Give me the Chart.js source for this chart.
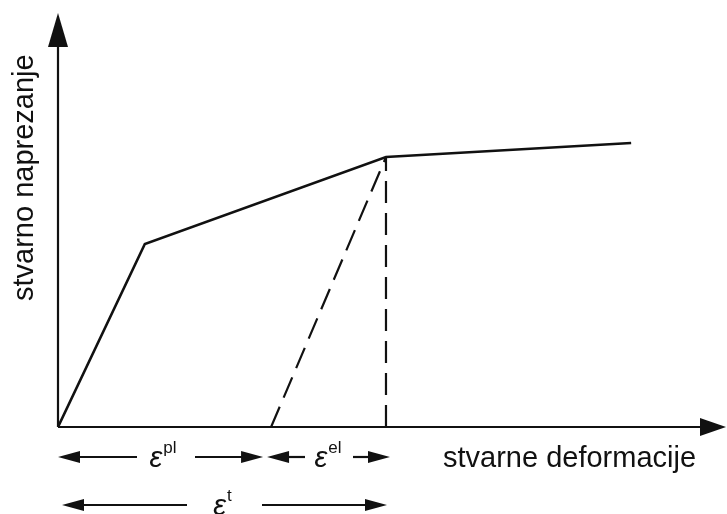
<!DOCTYPE html>
<html>
<head>
<meta charset="utf-8">
<script src="https://cdn.jsdelivr.net/npm/chart.js@4/dist/chart.umd.min.js"></script>
<style>
html,body{margin:0;padding:0;background:#fff;}
canvas{display:block;}
</style>
</head>
<body>
<canvas id="c" width="727" height="514"></canvas>
<script>
// Curve (true strain vs true stress), arbitrary units 0..100
const curveStrain = [0, 13.0, 49.1, 85.8];
const curveStress = [0, 44.2, 65.2, 68.6];
// Elastic unloading line (dashed)
const unloadStrain = [31.9, 49.1];
const unloadStress = [0, 65.2];
// Vertical dashed line at the peak
const dropStrain = [49.1, 49.1];
const dropStress = [0, 65.2];
// Dimension labels
const dimLabels = ['pl', 'el', 't'];
const dimFrom = [0, 31.9, 0];
const dimTo = [31.9, 49.1, 49.1];
const xAxisTitle = 'stvarne deformacije';
const yAxisTitle = 'stvarno naprezanje';

function pts(xs, ys){ return xs.map((v,i)=>({x:v,y:ys[i]})); }

const INK = '#111';

const decor = {
  id:'decor',
  afterDraw(chart){
    const {ctx, scales:{x, y}} = chart;
    const x0 = x.getPixelForValue(0), y0 = y.getPixelForValue(0);
    const yTop = y.getPixelForValue(100), xEnd = x.getPixelForValue(100);
    ctx.save();
    ctx.strokeStyle = INK; ctx.fillStyle = INK; ctx.lineWidth = 2.2; ctx.lineCap='butt';
    // y axis
    ctx.beginPath(); ctx.moveTo(x0, y0); ctx.lineTo(x0, yTop+30); ctx.stroke();
    ctx.beginPath(); ctx.moveTo(x0, yTop); ctx.lineTo(x0-10, yTop+34); ctx.lineTo(x0+10, yTop+34); ctx.closePath(); ctx.fill();
    // x axis
    ctx.beginPath(); ctx.moveTo(x0, y0); ctx.lineTo(xEnd-22, y0); ctx.stroke();
    ctx.beginPath(); ctx.moveTo(xEnd, y0); ctx.lineTo(xEnd-26, y0-9); ctx.lineTo(xEnd-26, y0+9); ctx.closePath(); ctx.fill();

    // axis titles
    ctx.font = '29px "Liberation Sans", Arial, sans-serif';
    ctx.textBaseline = 'alphabetic';
    ctx.textAlign = 'left';
    ctx.fillText(xAxisTitle, 443, 467);
    ctx.save();
    ctx.translate(33, 301);
    ctx.rotate(-Math.PI/2);
    ctx.fillText(yAxisTitle, 0, 0);
    ctx.restore();

    // dimension arrows
    function head(xt, yy, dir){
      ctx.beginPath(); ctx.moveTo(xt, yy); ctx.lineTo(xt + dir*22, yy-6); ctx.lineTo(xt + dir*22, yy+6); ctx.closePath(); ctx.fill();
    }
    function dim(xa, xb, yy, label, gL, gR, shift){
      ctx.lineWidth = 2.2;
      ctx.beginPath(); ctx.moveTo(xa+10, yy); ctx.lineTo(gL, yy); ctx.stroke();
      ctx.beginPath(); ctx.moveTo(gR, yy); ctx.lineTo(xb-10, yy); ctx.stroke();
      head(xa, yy, 1); head(xb, yy, -1);
      const cx = (gL+gR)/2 + shift;
      ctx.font = 'italic 29px "Liberation Sans", Arial, sans-serif';
      const we = ctx.measureText('\u03B5').width;
      ctx.font = '17px "Liberation Sans", Arial, sans-serif';
      const ws = ctx.measureText(label).width;
      const total = we + ws + 1;
      const lx = cx - total/2;
      ctx.textAlign = 'left';
      ctx.font = 'italic 29px "Liberation Sans", Arial, sans-serif';
      ctx.fillText('\u03B5', lx, yy+10);
      ctx.font = '17px "Liberation Sans", Arial, sans-serif';
      ctx.fillText(label, lx + we + 1, yy-4);
    }
    const r1 = y0 + 30, r2 = y0 + 78;
    dim(x.getPixelForValue(dimFrom[0]), x.getPixelForValue(dimTo[0]) - 8, r1, dimLabels[0], 137, 195, -3);
    dim(x.getPixelForValue(dimFrom[1]) - 4, x.getPixelForValue(dimTo[1]) + 4, r1, dimLabels[1], 305, 353, -1);
    dim(x.getPixelForValue(dimFrom[2]) + 4, x.getPixelForValue(dimTo[2]) + 1, r2, dimLabels[2], 187, 262, -2);
    ctx.restore();
  }
};

new Chart(document.getElementById('c'), {
  type:'scatter',
  data:{
    datasets:[
      {data:pts(curveStrain, curveStress), showLine:true, borderColor:INK, borderWidth:2.6, pointRadius:0, tension:0},
      {data:pts(unloadStrain, unloadStress), showLine:true, borderColor:INK, borderWidth:2.2, borderDash:[22,10], pointRadius:0},
      {data:pts(dropStrain, dropStress), showLine:true, borderColor:INK, borderWidth:2.2, borderDash:[22,10], pointRadius:0}
    ]
  },
  options:{
    responsive:false, animation:false, devicePixelRatio:1,
    layout:{padding:{left:58, right:1, top:13, bottom:87}},
    plugins:{legend:{display:false}, tooltip:{enabled:false}},
    scales:{
      x:{type:'linear', min:0, max:100, display:false},
      y:{type:'linear', min:0, max:100, display:false}
    }
  },
  plugins:[decor]
});
</script>
</body>
</html>
